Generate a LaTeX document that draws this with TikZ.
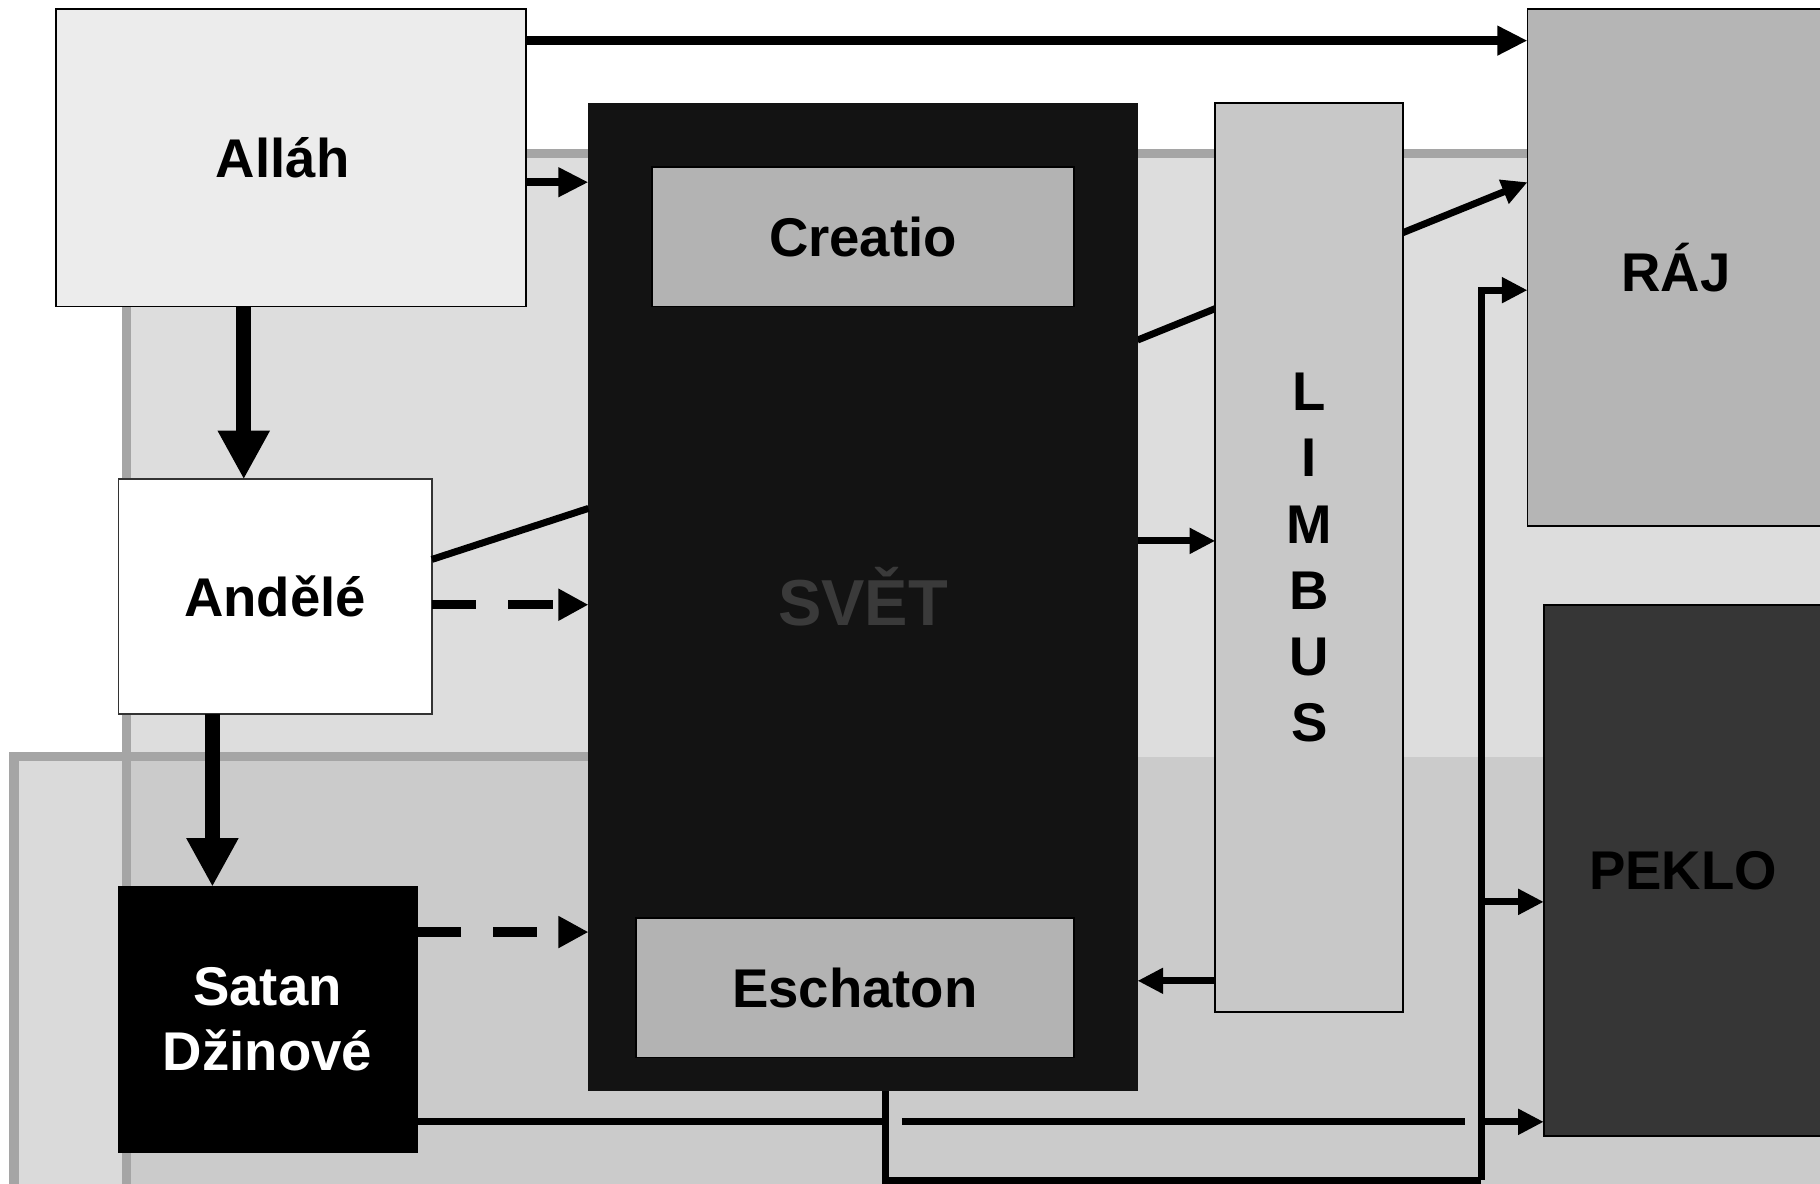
\documentclass[tikz,border=0pt]{standalone}
\usepackage{fontspec}
\setmainfont{Liberation Sans}
\usetikzlibrary{arrows.meta,calc}
\definecolor{allahc}{HTML}{ECECEC}
\definecolor{bgA}{HTML}{DDDDDD}
\definecolor{bgB}{HTML}{DADADA}
\definecolor{bgAB}{HTML}{CBCBCB}
\definecolor{framec}{HTML}{A5A5A5}
\definecolor{svetc}{HTML}{131313}
\definecolor{svettext}{HTML}{3A3A3A}
\definecolor{innerc}{HTML}{B3B3B3}
\definecolor{limbusc}{HTML}{C8C8C8}
\definecolor{rajc}{HTML}{B5B5B5}
\definecolor{pekloc}{HTML}{363636}
\pgfdeclarelayer{bglayer}
\pgfdeclarelayer{linelayer}
\pgfsetlayers{bglayer,linelayer,main}
\begin{document}
\begin{tikzpicture}[x=0.5pt,y=-0.5pt,
  box/.style={draw=black,line width=0.75pt,inner sep=0pt,outer sep=0pt,
    font=\bfseries\fontsize{23.5}{28}\selectfont,align=center},
  thickarrow/.style={line width=4pt,-{Triangle[length=13pt,width=12pt]}},
  medarrow/.style={line width=3.5pt,-{Triangle[length=13pt,width=12pt]}},
  thinarrow/.style={line width=3pt,-{Triangle[length=11pt,width=10.5pt]}},
  bigarrow/.style={line width=6.5pt,-{Triangle[length=21pt,width=21pt]}},
  dasharrow/.style={line width=4pt,dash pattern=on 19pt off 14pt,-{Triangle[length=13pt,width=13pt]}},
  thinline/.style={line width=3pt},
  frameline/.style={draw=framec,line width=4pt,line join=miter}
]
\useasboundingbox (0,0) rectangle (1568,1020);

% nodes
\node[box,fill=allahc,minimum width=202.5pt,minimum height=128pt] (allah) at (250.5,136) {Alláh\hspace*{7pt}};
\node[box,fill=white,draw=black!80,minimum width=135pt,minimum height=101pt] (andele) at (237,514) {Andělé};
\node[box,fill=black,text=white,minimum width=128.5pt,minimum height=114.5pt] (satan) at (230.5,878.5) {Satan\\Džinové};
\node[box,draw=none,fill=svetc,text=svettext,minimum width=236.5pt,minimum height=425.5pt,
  font=\bfseries\fontsize{28}{32}\selectfont] (svet) at (743.5,514.5) {SVĚT};
\node[box,fill=innerc,minimum width=181.5pt,minimum height=60pt] (creatio) at (743.5,204) {Creatio};
\node[box,fill=innerc,minimum width=188.5pt,minimum height=60pt] (eschaton) at (736.5,851) {Eschaton};
\node[box,fill=limbusc,minimum width=81pt,minimum height=391.5pt,
  font=\bfseries\fontsize{23.5}{28.5}\selectfont] (limbus) at (1128,480.5) {L\\I\\M\\B\\U\\S};
\node[box,fill=rajc,minimum width=128pt,minimum height=222.5pt] (raj) at (1444,230.5) {RÁJ};
\node[box,fill=pekloc,minimum width=120pt,minimum height=229pt] (peklo) at (1450,750) {PEKLO};

% background areas
\begin{pgfonlayer}{bglayer}
  \fill[white] (0,0) rectangle (1568,1020);
  \fill[bgA] (109,132) rectangle (1600,1100);
  \fill[bgB] (12,652) rectangle (109,1100);
  \fill[bgAB] (109,652) rectangle (1600,1100);
  \draw[frameline] (109,1100) -- (109,132) -- (1600,132);
  \draw[frameline] (12,1100) -- (12,652) -- (600,652);
\end{pgfonlayer}

% line passing behind LIMBUS
\begin{pgfonlayer}{linelayer}
  \draw[thinarrow] ($(svet.east)+(0,-221.5)$) -- ($(raj.west)+(0,-73.5)$);
\end{pgfonlayer}

% connectors
\draw[thickarrow] ($(allah.north east)+(0,27)$) -- ($(raj.north west)+(0,27)$);
\coordinate (a1) at ($(allah.east)+(0,21)$);
\draw[medarrow] (a1) -- (a1 -| svet.west);
\coordinate (a2) at ($(allah.south west)+(162,0)$);
\draw[bigarrow] (a2) -- (a2 |- andele.north);
\coordinate (a3) at ($(andele.south west)+(81,0)$);
\draw[bigarrow] (a3) -- (a3 |- satan.north);
\coordinate (a4) at ($(andele.east)+(0,7)$);
\draw[dasharrow] (a4) -- (a4 -| svet.west);
\draw[thinline] ($(andele.east)+(0,-32)$) -- ($(svet.west)+(0,-76.5)$);
\coordinate (a5) at ($(satan.north east)+(0,39)$);
\draw[dasharrow] (a5) -- (a5 -| svet.west);
\coordinate (a6) at ($(svet.east)+(0,-48.5)$);
\draw[thinarrow] (a6) -- (a6 -| limbus.west);
\coordinate (a7) at ($(limbus.south west)+(0,-27)$);
\draw[thinarrow] (a7) -- (a7 -| svet.east);

% loop from SVET to RAJ and PEKLO
\coordinate (busL) at (763,1017);
\coordinate (busR) at (1276,1017);
\draw[thinline,line join=miter] (busL |- svet.south) -- (busL) -- (busR);
\coordinate (r1) at ($(raj.west)+(0,19.5)$);
\draw[thinarrow,line join=miter] (busR) -- (busR |- r1) -- (r1);
\coordinate (p1) at ($(peklo.west)+(0,27)$);
\draw[thinarrow] (p1 -| busR) -- (p1);
\coordinate (p2) at ($(peklo.west)+(0,216.5)$);
\draw[thinarrow] (p2 -| busR) -- (p2);

% Satan line to PEKLO (with gaps at crossings)
\coordinate (s1) at ($(satan.south east)+(0,-27)$);
\draw[thinline] (s1) -- (s1 -| busL);
\draw[thinline] ($(s1 -| busL)+(14,0)$) -- ($(s1 -| busR)+(-14,0)$);
\end{tikzpicture}
\end{document}
